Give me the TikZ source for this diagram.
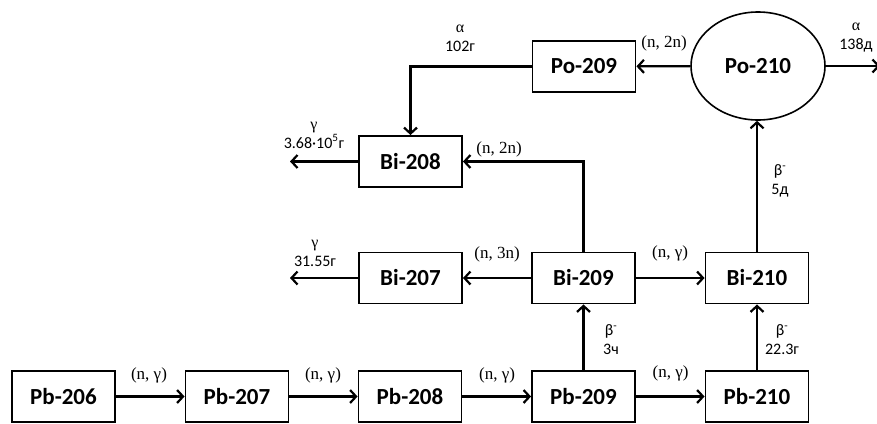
\documentclass[tikz,border=0pt]{standalone}
\usepackage{fontspec}
\setmainfont{Carlito}
\newfontfamily\tms{Liberation Serif}
\usetikzlibrary{arrows.meta,shapes.geometric}

\begin{document}
\begin{tikzpicture}[x=1pt,y=-1pt,
  iso/.style={draw,line width=1.9pt,minimum width=103pt,minimum height=51pt,inner sep=0pt,
    font=\fontsize{23}{23}\selectfont\bfseries},
  react/.style={font=\tms\fontsize{17}{17}\selectfont,inner sep=0pt},
  decay/.style={font=\fontsize{16}{19}\selectfont,align=center,inner sep=0pt},
  flow/.style={line width=2.2pt,-{Straight Barb[length=6pt,width=13pt]}}]
  \useasboundingbox (0,0) rectangle (877,423);

  % lead
  \node[iso] (pb206) at (63.5,396.5) {Pb-206};
  \node[iso] (pb207) at (237,396.5) {Pb-207};
  \node[iso] (pb208) at (410,396.5) {Pb-208};
  \node[iso] (pb209) at (583.5,396.5) {Pb-209};
  \node[iso] (pb210) at (757,396.5) {Pb-210};
  % bismuth
  \node[iso] (bi207) at (410.5,278) {Bi-207};
  \node[iso] (bi209) at (583.5,278) {Bi-209};
  \node[iso] (bi210) at (757,278) {Bi-210};
  \node[iso] (bi208) at (410.5,161.5) {Bi-208};
  % polonium
  \node[iso] (po209) at (584,66.5) {Po-209};
  \node[iso,ellipse,line width=1.6pt,minimum width=134pt,minimum height=108pt] (po210) at (758,66) {Po-210};

  \coordinate (out208) at (290,161.5);
  \coordinate (out207) at (290,278);
  \coordinate (out210) at (880,66);

  \draw[flow] (pb206) -- (pb207);
  \draw[flow] (pb207) -- (pb208);
  \draw[flow] (pb208) -- (pb209);
  \draw[flow] (pb209) -- (pb210);
  \draw[flow] (pb209) -- (bi209);
  \draw[flow] (pb210) -- (bi210);
  \draw[flow] (bi209) -- (bi210);
  \draw[flow] (bi209) -- (bi207);
  \draw[flow] (bi209.north) |- (bi208.east);
  \draw[flow] (bi210.north) -- (bi210.north |- po210.south);
  \draw[flow] (po210) -- (po209);
  \draw[flow] (po209.west) -| (bi208.north);
  \draw[flow] (po210) -- (out210);
  \draw[flow] (bi208) -- (out208);
  \draw[flow] (bi207) -- (out207);

  \node[react] (r1) at (149,375) {(n, γ)};
  \node[react] (r2) at (323,375) {(n, γ)};
  \node[react] (r3) at (497,375) {(n, γ)};
  \node[react] (r4) at (670.5,373) {(n, γ)};
  \node[react] (r5) at (670,253) {(n, γ)};
  \node[react] (r6) at (497,254) {(n, 3n)};
  \node[react] (r7) at (499,149) {(n, 2n)};
  \node[react] (r8) at (664,43) {(n, 2n)};

  \node[decay] (d1) at (611,340) {β\textsuperscript{-}\\3ч};
  \node[decay] (d2) at (782,340) {β\textsuperscript{-}\\22.3г};
  \node[decay] (d3) at (780,181) {β\textsuperscript{-}\\5д};
  \node[decay] (d4) at (460,38) {{\tms α}\\102г};
  \node[decay] (d5) at (856,38) {{\tms α}\\138д};
  \node[decay] (d6) at (314,135) {{\tms γ}\\3.68·10\textsuperscript{5}г};
  \node[decay] (d7) at (315,253) {{\tms γ}\\31.55г};
\end{tikzpicture}
\end{document}
